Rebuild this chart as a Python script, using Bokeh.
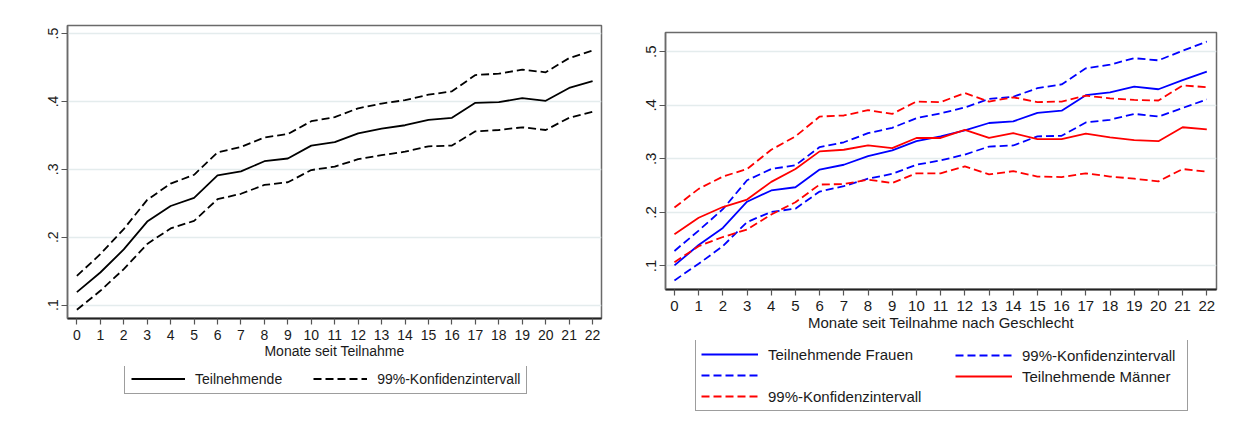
from bokeh.plotting import figure
from bokeh.models import Range1d, FixedTicker, Legend, LegendItem
from bokeh.layouts import row, column
from bokeh.embed import file_html
from bokeh.resources import INLINE

# ---------------- data ----------------
months = list(range(23))
x_tick_labels = [str(m) for m in months]
y_ticks = [0.1, 0.2, 0.3, 0.4, 0.5]
y_tick_labels = [".1", ".2", ".3", ".4", ".5"]

# left panel: all participants
teiln = [0.119, 0.148, 0.182, 0.223, 0.246, 0.258, 0.291, 0.297, 0.312, 0.316, 0.335, 0.340,
         0.353, 0.360, 0.365, 0.373, 0.376, 0.398, 0.399, 0.405, 0.401, 0.420, 0.430]
teiln_hi = [0.143, 0.175, 0.212, 0.255, 0.279, 0.292, 0.325, 0.333, 0.347, 0.352, 0.371, 0.377,
            0.390, 0.397, 0.402, 0.410, 0.415, 0.439, 0.441, 0.447, 0.443, 0.464, 0.475]
teiln_lo = [0.093, 0.121, 0.153, 0.190, 0.213, 0.224, 0.256, 0.264, 0.277, 0.281, 0.299, 0.304,
            0.315, 0.321, 0.326, 0.334, 0.335, 0.356, 0.358, 0.362, 0.358, 0.376, 0.385]

# right panel: by gender
frauen = [0.101, 0.139, 0.171, 0.220, 0.241, 0.247, 0.280, 0.289, 0.305, 0.316, 0.333, 0.342,
          0.353, 0.367, 0.370, 0.386, 0.390, 0.419, 0.424, 0.435, 0.430, 0.447, 0.463]
frauen_hi = [0.128, 0.166, 0.206, 0.260, 0.281, 0.288, 0.322, 0.331, 0.348, 0.358, 0.376, 0.385,
             0.396, 0.412, 0.416, 0.432, 0.439, 0.469, 0.476, 0.488, 0.484, 0.502, 0.519]
frauen_lo = [0.073, 0.104, 0.137, 0.182, 0.201, 0.207, 0.239, 0.249, 0.263, 0.272, 0.289, 0.297,
             0.308, 0.323, 0.325, 0.342, 0.343, 0.368, 0.373, 0.384, 0.379, 0.395, 0.411]
maenner = [0.159, 0.190, 0.210, 0.224, 0.257, 0.281, 0.314, 0.317, 0.325, 0.320, 0.339, 0.339,
           0.354, 0.339, 0.348, 0.337, 0.337, 0.347, 0.340, 0.335, 0.333, 0.359, 0.355]
maenner_hi = [0.209, 0.244, 0.267, 0.281, 0.317, 0.342, 0.379, 0.381, 0.391, 0.384, 0.407, 0.406,
              0.423, 0.407, 0.415, 0.406, 0.407, 0.418, 0.413, 0.410, 0.409, 0.437, 0.434]
maenner_lo = [0.107, 0.137, 0.154, 0.168, 0.196, 0.219, 0.252, 0.253, 0.261, 0.255, 0.273, 0.273,
              0.286, 0.271, 0.277, 0.267, 0.266, 0.273, 0.267, 0.263, 0.258, 0.281, 0.276]

FONT = "Liberation Sans"
TXT = "#1a1a1a"
GRID = "#e4eced"
DASH = "8 4"
BLUE = "#0000ff"
RED = "#ff0000"
LW = 1.8


def style(p, fs, label):
    p.background_fill_color = "white"
    p.border_fill_color = "white"
    p.outline_line_color = "#6a6a6a"
    p.outline_line_width = 1.5
    p.xgrid.visible = False
    p.ygrid.grid_line_color = GRID
    p.ygrid.grid_line_width = 1.5
    p.xaxis.ticker = FixedTicker(ticks=months)
    p.xaxis.major_label_overrides = {m: l for m, l in zip(months, x_tick_labels)}
    p.yaxis.ticker = FixedTicker(ticks=y_ticks)
    p.yaxis.major_label_overrides = {t: l for t, l in zip(y_ticks, y_tick_labels)}
    p.yaxis.major_label_orientation = "vertical"
    p.xaxis.axis_label = label
    for ax in (p.xaxis[0], p.yaxis[0]):
        ax.major_label_text_font = FONT
        ax.major_label_text_font_size = f"{fs}px"
        ax.major_label_text_color = TXT
        ax.axis_label_text_font = FONT
        ax.axis_label_text_font_size = f"{fs}px"
        ax.axis_label_text_font_style = "normal"
        ax.axis_label_text_color = TXT
        ax.minor_tick_line_color = None
        ax.major_tick_out = 6
        ax.major_tick_in = 0
        ax.major_tick_line_color = "#555555"
        ax.major_tick_line_width = 1.2
    p.xaxis.axis_line_color = "#222222"
    p.xaxis.axis_line_width = 2
    p.yaxis.axis_line_color = "#6a6a6a"
    p.yaxis.axis_line_width = 1.5
    p.xaxis.major_label_standoff = 5
    p.yaxis.major_label_standoff = 3
    p.xaxis.axis_label_standoff = 0


def legend_host(width, height, left, right):
    lf = figure(width=width, height=height, output_backend="svg", toolbar_location=None,
                x_range=Range1d(0, 1), y_range=Range1d(0, 1),
                min_border_left=left, min_border_right=right, min_border_top=0, min_border_bottom=0)
    lf.axis.visible = False
    lf.grid.visible = False
    lf.outline_line_color = None
    lf.background_fill_color = "white"
    lf.border_fill_color = "white"
    return lf


def make_items(lf, spec):
    items = []
    for lab, col, dash in spec:
        # sample renderer kept outside the visible range; only its legend glyph shows
        r = lf.line([5, 6], [5, 6], line_color=col, line_width=LW, line_dash=dash)
        items.append(LegendItem(label=lab, renderers=[r]))
    return items


def make_legend(items, loc, fs, glyph_w, spacing, padding, boxed, label_width=20, orient="horizontal"):
    return Legend(items=items, location=loc, orientation=orient,
                  glyph_width=glyph_w, glyph_height=fs + 3, label_height=fs + 3, label_standoff=10,
                  label_width=label_width, spacing=spacing, padding=padding, margin=0,
                  label_text_font=FONT, label_text_font_size=f"{fs}px", label_text_color=TXT,
                  border_line_color="#3c3c3c" if boxed else None, border_line_width=1.2,
                  background_fill_color="white", background_fill_alpha=1 if boxed else 0)


# ---------------- left figure ----------------
p1 = figure(width=617, height=366, output_backend="svg", toolbar_location=None,
            x_range=Range1d(-0.4, 22.38), y_range=Range1d(0.0802, 0.512),
            min_border_left=67, min_border_right=16, min_border_top=25, min_border_bottom=48)
style(p1, 14, "Monate seit Teilnahme")
p1.line(months, teiln, line_color="black", line_width=LW)
p1.line(months, teiln_hi, line_color="black", line_width=LW, line_dash=DASH)
p1.line(months, teiln_lo, line_color="black", line_width=LW, line_dash=DASH)

l1 = legend_host(617, 73, 67, 16)
items1 = make_items(l1, [("Teilnehmende", "black", "solid"),
                         ("99%-Konfidenzintervall", "black", DASH)])
l1.add_layout(make_legend(items1, (57, 45), 14, 54, 31, 6, True), "center")

# ---------------- right figure ----------------
p2 = figure(width=637, height=340, output_backend="svg", toolbar_location=None,
            x_range=Range1d(-0.37, 22.4), y_range=Range1d(0.056, 0.536),
            min_border_left=48, min_border_right=38, min_border_top=32, min_border_bottom=51)
style(p2, 15, "Monate seit Teilnahme nach Geschlecht")
p2.line(months, frauen, line_color=BLUE, line_width=LW)
p2.line(months, frauen_hi, line_color=BLUE, line_width=LW, line_dash=DASH)
p2.line(months, frauen_lo, line_color=BLUE, line_width=LW, line_dash=DASH)
p2.line(months, maenner, line_color=RED, line_width=LW)
p2.line(months, maenner_hi, line_color=RED, line_width=LW, line_dash=DASH)
p2.line(months, maenner_lo, line_color=RED, line_width=LW, line_dash=DASH)

l2 = legend_host(637, 99, 48, 38)
# first legend column (with the surrounding box)
items2a = make_items(l2, [("Teilnehmende Frauen", BLUE, "solid"),
                          (" ", BLUE, DASH),
                          ("99%-Konfidenzintervall", RED, DASH)])
l2.add_layout(make_legend(items2a, (30, 28), 15, 57, 3, 5, True, label_width=414,
                          orient="vertical"), "center")
# second legend column
items2b = make_items(l2, [("99%-Konfidenzintervall", BLUE, DASH),
                          ("Teilnehmende Männer", RED, "solid")])
l2.add_layout(make_legend(items2b, (290, 54), 15, 57, 3, 5, False,
                          orient="vertical"), "center")

layout = row(column(p1, l1), column(p2, l2))
open("out.html", "w").write(file_html(layout, INLINE))
